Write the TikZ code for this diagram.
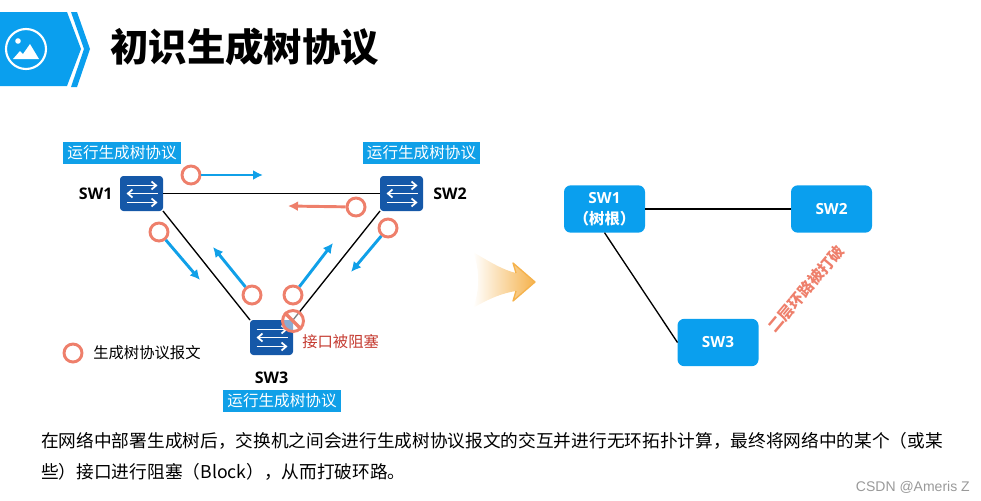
\documentclass[tikz,border=0pt]{standalone}
\usepackage{fontspec}
\usepackage{xcolor}
\usetikzlibrary{arrows.meta,positioning,shapes.misc}
\setmainfont{Noto Sans CJK SC}
\newfontfamily\titlefont{Noto Sans CJK SC Black}
\newfontfamily\swfont{Open Sans}
\newfontfamily\markfont{Liberation Sans}
\definecolor{skyblue}{HTML}{0A9FEE}
\definecolor{tagblue}{HTML}{10A0E8}
\definecolor{swblue}{HTML}{1558A8}
\definecolor{salmon}{HTML}{EE7F6B}
\definecolor{blockred}{HTML}{C43A30}
\definecolor{glow}{HTML}{F5B24C}
\newcommand{\cjksize}[1]{\fontsize{#1}{#1}\selectfont}

\begin{document}
\begin{tikzpicture}[
    x=0.75pt, y=-0.75pt,
    swbox/.style={fill=swblue, rounded corners=2.5pt, inner sep=0pt, outer sep=0pt,
                  minimum width=32.25pt, minimum height=26.25pt},
    swname/.style={inner sep=0pt, font=\swfont\bfseries\cjksize{12}},
    tag/.style={fill=tagblue, text=white, inner sep=0pt, minimum width=88pt,
                minimum height=16.5pt, font=\cjksize{11.7}},
    pkt/.style={circle, draw=salmon, line width=2.2pt, fill=white, inner sep=0pt,
                minimum size=13.5pt},
    link/.style={line width=1pt, black},
    bluearr/.style={-{Latex[length=7.5pt,width=7.5pt]}, line width=2.2pt, tagblue},
    redarr/.style={-{Latex[length=7.5pt,width=7.5pt]}, line width=2.2pt, salmon},
    treebox/.style={fill=skyblue, rounded corners=5pt, inner sep=0pt, outer sep=0pt,
                    minimum width=60.75pt, minimum height=35.5pt, align=center,
                    text=white, font=\swfont\bfseries\cjksize{11.5}},
    swarrow/.style={-{Straight Barb[length=3.5pt,width=6pt]}, white, line width=1.3pt},
    swicon/.pic={
        \draw[swarrow] (-15,-8) -- (16,-8);
        \draw[swarrow] (16,0) -- (-15,0);
        \draw[swarrow] (-15,9) -- (16,9);
    }
]
\useasboundingbox (0,0) rectangle (981,500);

\fill[skyblue] (0,12) -- (67,12) -- (81,49) -- (67,86) -- (0,86) -- cycle;
\fill[skyblue] (71,12) -- (77,12) -- (90,49) -- (77,87) -- (71,87) -- (84,49) -- cycle;
\draw[white, line width=1.6pt] (26,49) circle [radius=20];
\fill[white] (18,41) circle [radius=2.8];
\fill[white] (13,59) -- (20,51) -- (23,54) -- (30,44) -- (39,59) -- cycle;
\node[anchor=west, inner sep=0pt, font=\titlefont\cjksize{28.8}] (title) at (110,47) {初识生成树协议};

\node[swbox] (sw1) at (141.5,193.5) {};
\node[swbox, right=162.75pt of sw1] (sw2) {};
\node[swbox] (sw3) at (271.5,337.5) {};
\pic at (sw1) {swicon};
\pic at (sw2) {swicon};
\pic at (sw3) {swicon};

\node[swname, left=5.5pt of sw1] (sw1name) {SW1};
\node[swname, right=7.5pt of sw2] (sw2name) {SW2};
\node[swname, below=12.5pt of sw3] (sw3name) {SW3};

\node[tag] (tag1) at (122,153) {运行生成树协议};
\node[tag] (tag2) at (421.5,153) {运行生成树协议};
\node[tag] (tag3) at (282,400.5) {运行生成树协议};

\draw[link] (sw1) -- (sw2);
\draw[link] (sw1.south east) -- (sw3.north west);
\draw[link] (sw2.south west) -- (sw3.north east);

\node[pkt] (pkta) at (191,175) {};
\node[pkt] (pktb) at (159,232) {};
\node[pkt] (pktc) at (356,207) {};
\node[pkt] (pktd) at (388,228) {};
\node[pkt] (pkte) at (252,295) {};
\node[pkt] (pktf) at (293,295) {};
\coordinate (enda) at (263,175);
\coordinate (endb) at (200,280);
\coordinate (endc) at (288,206);
\coordinate (endd) at (351,272);
\coordinate (ende) at (213,247);
\coordinate (endf) at (333,243);
\draw[bluearr] (pkta) -- (enda);
\draw[bluearr] (pktb) -- (endb);
\draw[redarr] (pktc) -- (endc);
\draw[bluearr] (pktd) -- (endd);
\draw[bluearr] (pkte) -- (ende);
\draw[bluearr] (pktf) -- (endf);

\node[circle, draw=salmon, line width=2.2pt, fill=white, fill opacity=0.5, inner sep=0pt,
      minimum size=15.75pt] (block) at (293,321) {};
\draw[salmon, line width=2.4pt] (block.135) -- (block.-45);
\node[anchor=west, inner sep=0pt, text=blockred, font=\cjksize{11.5}] (blocktext) at (302,342) {接口被阻塞};

\node[pkt] (legend) at (73,353) {};
\node[anchor=west, inner sep=0pt, font=\cjksize{11.5}] (legendtext) at (93,353) {生成树协议报文};

\path[left color=white, middle color=glow!45, right color=glow] (473,252) .. controls (490,262) and (503,270) .. (516,273)
    -- (513,263) -- (535,282) -- (513,301) -- (516,291)
    .. controls (503,293) and (490,298) .. (473,308)
    .. controls (480,290) and (480,270) .. (473,252) -- cycle;
\draw[glow, line width=1pt, line join=round] (516,273) -- (513,263) -- (535,282) -- (513,301) -- (516,291);

\node[treebox] (root) at (604.5,209) {SW1\\[4pt]{\rmfamily\bfseries （树根）}};
\node[treebox, right=109.5pt of root] (rsw2) {SW2};
\node[treebox] (rsw3) at (718,342.5) {SW3};
\draw[link] (root) -- (rsw2);
\draw[link] (root.south) -- (rsw3.west);
\node[rotate=50, inner sep=0pt, text=salmon, font=\bfseries\cjksize{11.5}] (broken) at (806,289) {二层环路被打破};

\node[anchor=north west, align=left, inner sep=0pt, font=\fontsize{13.26}{23}\selectfont] (body) at (41,432.5)
    {在网络中部署生成树后，交换机之间会进行生成树协议报文的交互并进行无环拓扑计算，最终将网络中的某个（或某\\
     些）接口进行阻塞（Block），从而打破环路。};
\node[anchor=east, inner sep=0pt, text=black!40, font=\markfont\cjksize{10.5}] (mark) at (970,487) {CSDN @Ameris Z};

\end{tikzpicture}
\end{document}
